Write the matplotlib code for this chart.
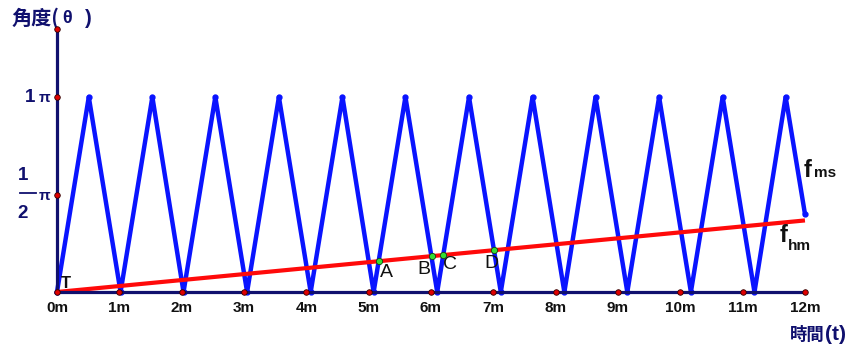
import numpy as np
import matplotlib
matplotlib.use("Agg")
import matplotlib.pyplot as plt

# time ticks (minutes) and labels
t_ticks = list(range(13))
t_labels = [f"{m}m" for m in t_ticks]

# f_ms: vertices of the zig-zag (t in minutes, angle in units of pi)
ms_t = [0.0, 0.51, 1.02, 1.53, 2.03, 2.54, 3.05, 3.56, 4.07, 4.58, 5.08, 5.59,
        6.10, 6.61, 7.12, 7.63, 8.14, 8.64, 9.15, 9.66, 10.17, 10.68, 11.19,
        11.69, 12.0]
ms_y = [0.0, 1.0, 0.0, 1.0, 0.0, 1.0, 0.0, 1.0, 0.0, 1.0, 0.0, 1.0,
        0.0, 1.0, 0.0, 1.0, 0.0, 1.0, 0.0, 1.0, 0.0, 1.0, 0.0,
        1.0, 0.40]

# f_hm: straight line
hm_t = [0.0, 12.0]
hm_y = [0.0, 0.367]

# intersection points
pt_names = ["A", "B", "C", "D"]
pt_t = [5.16, 6.01, 6.20, 7.01]
pt_y = [0.158, 0.184, 0.189, 0.214]

y_top = 1.35

navy = "#10106e"
ink = "#111111"
sans = ["Liberation Sans", "DejaVu Sans"]
cjk = ["Noto Sans CJK TC", "DejaVu Sans"]

fig = plt.figure(figsize=(8.57, 3.53), dpi=100)
ax = fig.add_axes([0, 0, 1, 1])
ax.set_xlim(-57 / 62.33, (857 - 57) / 62.33)
ax.set_ylim(-(353 - 292) / 195, 292 / 195)
ax.axis("off")

# axes
ax.plot([0, 12], [0, 0], color=navy, lw=2.3, zorder=4, solid_capstyle="butt")
ax.plot([0, 0], [0, y_top], color=navy, lw=2.3, zorder=4, solid_capstyle="butt")

# curves
ax.plot(ms_t, ms_y, color="#0a14ff", lw=3.2, zorder=2)
ax.plot(ms_t, ms_y, color="#0a14ff", lw=0, marker="o", ms=3.5, zorder=2)
ax.plot(hm_t, hm_y, color="#ff0a0a", lw=3.0, zorder=3, solid_capstyle="butt")

# tick dots
ax.plot(t_ticks, [0] * len(t_ticks), "o", color="#e00000", mec="#300000",
        mew=0.6, ms=4, zorder=5)
ax.plot([0, 0, 0], [0.5, 1.0, y_top], "o", color="#e00000", mec="#300000",
        mew=0.6, ms=4, zorder=5)

for t, lab in zip(t_ticks, t_labels):
    ax.text(t, -0.08, lab, ha="center", va="center", fontsize=11,
            fontweight="bold", color=ink, family=sans)

# y labels
ax.text(-0.35, 1.0, "1", ha="right", va="center", fontsize=13.5,
        fontweight="bold", color=navy, family=sans)
ax.text(-0.11, 0.995, "π", ha="right", va="center", fontsize=11,
        fontweight="bold", color=navy, family=sans)
ax.text(-0.55, 0.60, "1", ha="center", va="center", fontsize=13.5,
        fontweight="bold", color=navy, family=sans)
ax.plot([-0.6, -0.33], [0.51, 0.51], color=navy, lw=1.3)
ax.text(-0.55, 0.405, "2", ha="center", va="center", fontsize=13.5,
        fontweight="bold", color=navy, family=sans)
ax.text(-0.11, 0.49, "π", ha="right", va="center", fontsize=11,
        fontweight="bold", color=navy, family=sans)

# axis titles
ax.text(-0.73, 1.405, "角度(", ha="left", va="center", fontsize=14.5,
        fontweight="bold", color=navy, family=cjk)
ax.text(0.09, 1.405, "θ", ha="left", va="center", fontsize=13,
        fontweight="bold", color=navy, family=sans)
ax.text(0.45, 1.405, ")", ha="left", va="center", fontsize=14.5,
        fontweight="bold", color=navy, family=sans)
ax.text(11.76, -0.22, "時間", ha="left", va="center", fontsize=12.5,
        fontweight="bold", color=navy, family=cjk)
ax.text(12.32, -0.22, "(t)", ha="left", va="center", fontsize=15,
        fontweight="bold", color=navy, family=sans)

# origin label
ax.text(0.07, 0.02, "T", ha="left", va="baseline", fontsize=12,
        fontweight="bold", color=ink, family=sans, zorder=7)

# intersection points
ax.plot(pt_t, pt_y, "o", color="#33dd33", mec="#114411", mew=0.6, ms=4.5,
        zorder=6)
offsets = [(0.12, -0.06), (-0.12, -0.07), (0.1, -0.05), (-0.04, -0.07)]
for name, t, y, (dx, dy) in zip(pt_names, pt_t, pt_y, offsets):
    ax.text(t + dx, y + dy, name, ha="center", va="center", fontsize=14,
            color=ink, family=sans)

# curve names
ax.text(11.98, 0.59, "f", ha="left", va="baseline", fontsize=17,
        fontweight="bold", color=ink, family=sans)
ax.text(12.15, 0.59, "ms", ha="left", va="baseline", fontsize=11,
        fontweight="bold", color=ink, family=sans)
ax.text(11.6, 0.256, "f", ha="left", va="baseline", fontsize=17,
        fontweight="bold", color=ink, family=sans)
ax.text(11.73, 0.215, "hm", ha="left", va="baseline", fontsize=11,
        fontweight="bold", color=ink, family=sans)

fig.savefig("out.png", dpi=100, facecolor="white")
